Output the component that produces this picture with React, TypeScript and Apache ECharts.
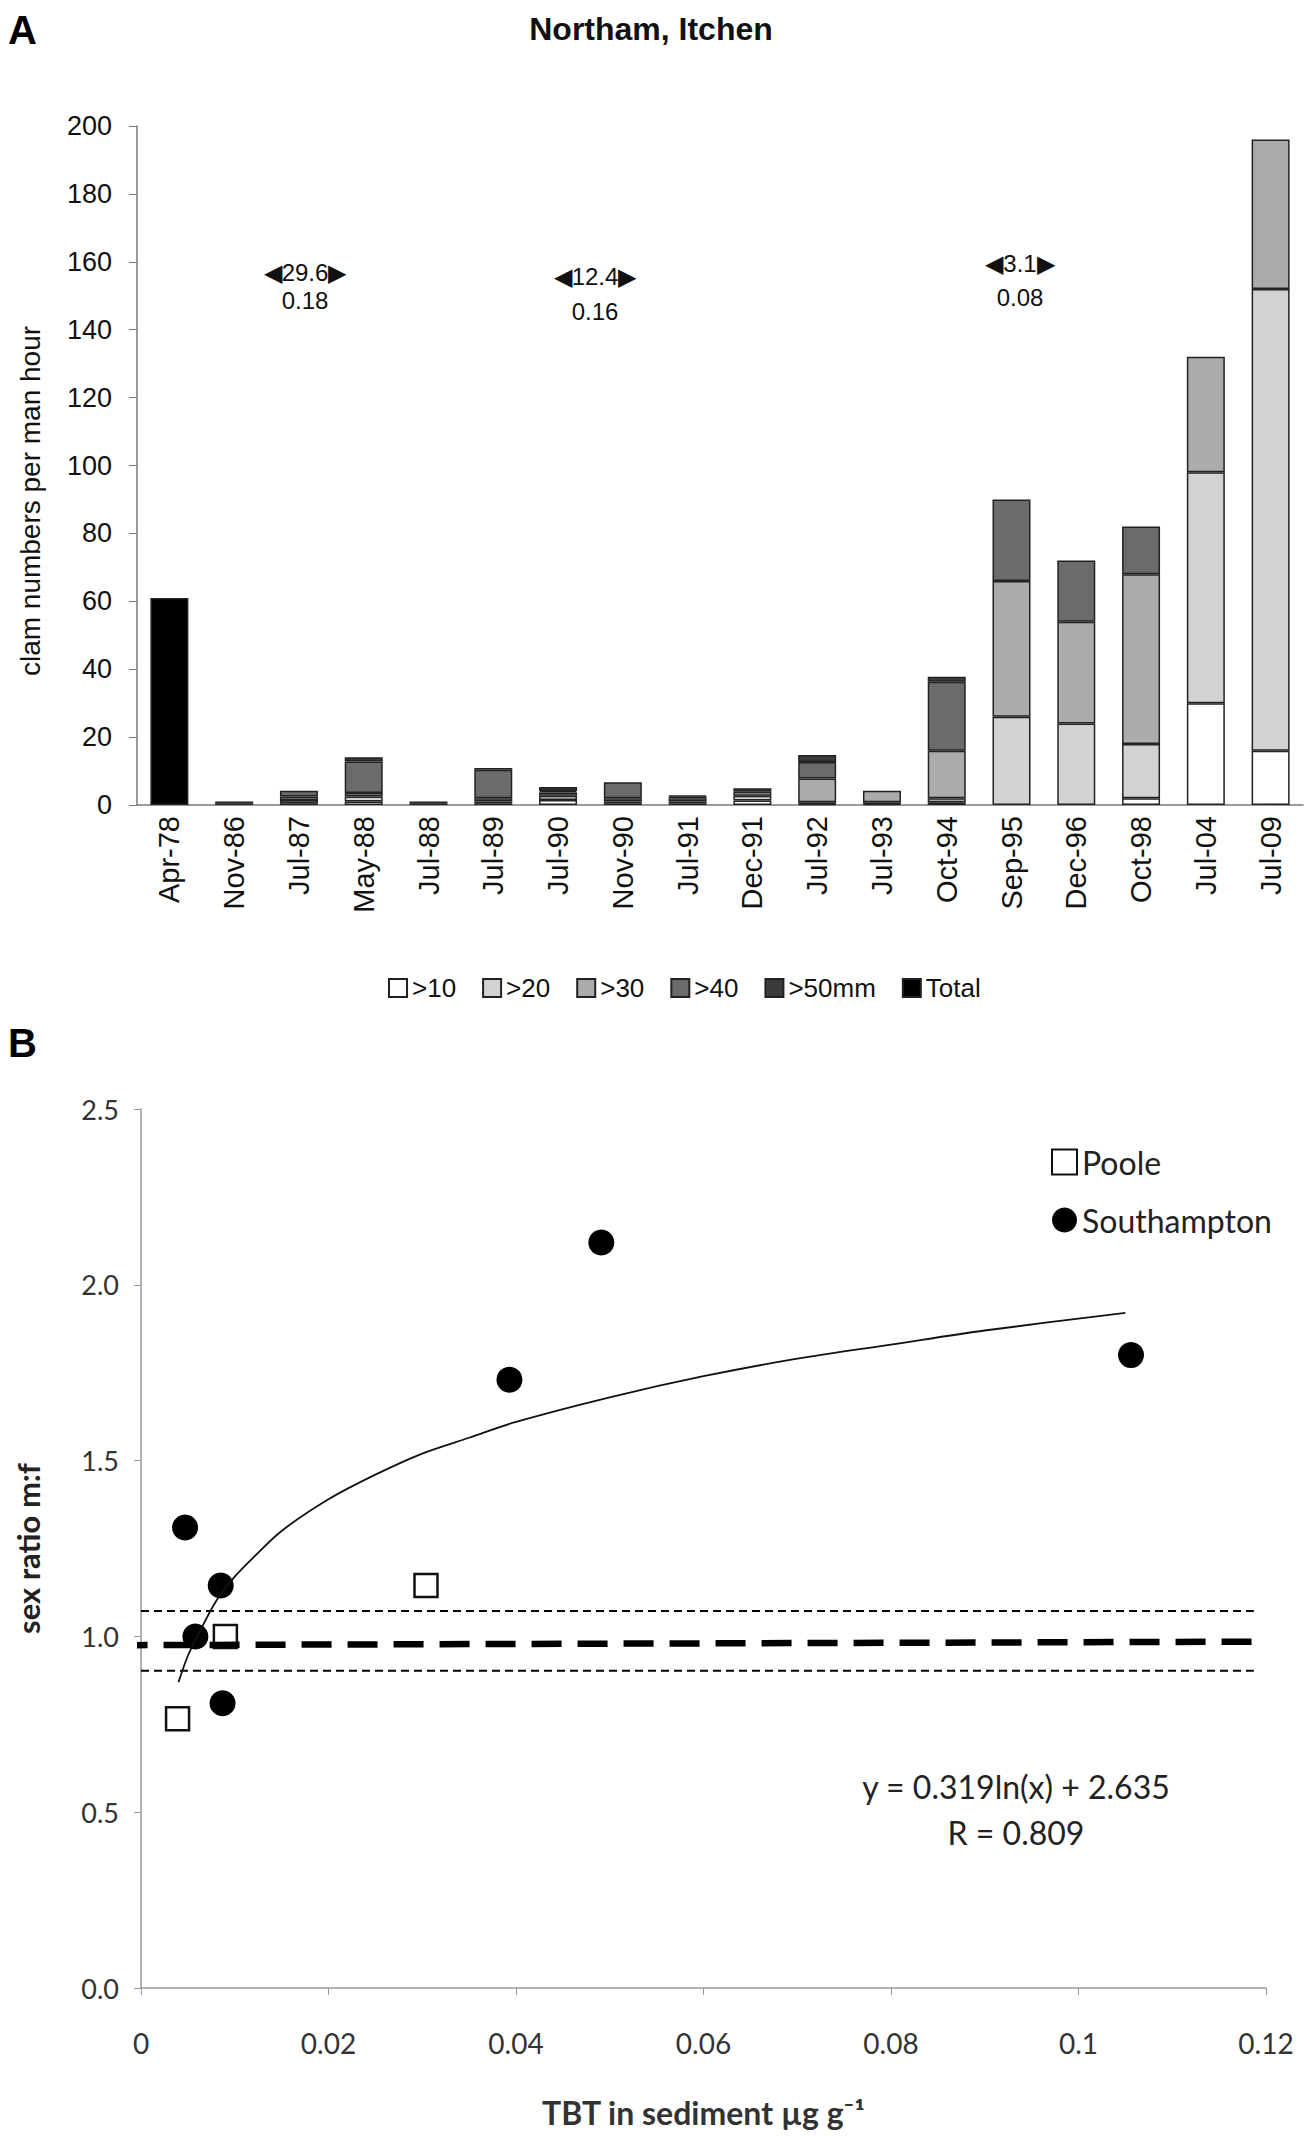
import React, { useEffect, useRef } from 'react';
import * as echarts from 'echarts';

// panel A: clam catch per size class
const categories = [
  'Apr-78', 'Nov-86', 'Jul-87', 'May-88', 'Jul-88', 'Jul-89', 'Jul-90', 'Nov-90', 'Jul-91',
  'Dec-91', 'Jul-92', 'Jul-93', 'Oct-94', 'Sep-95', 'Dec-96', 'Oct-98', 'Jul-04', 'Jul-09',
];
const gt10 = [0, 0, 0.5, 1, 0, 0.5, 1.5, 0.5, 0.5, 1.3, 0.3, 0.3, 0.8, 0, 0, 2, 30, 16];
const gt20 = [0, 0, 1, 1.5, 0, 0.5, 1.2, 0.5, 0.5, 1.4, 0.5, 0.5, 1.2, 26, 24, 16, 68, 136];
const gt30 = [0, 0, 1, 1, 0, 1, 1, 1, 1, 1.2, 7, 3.4, 14, 40, 30, 50, 34, 44];
const gt40 = [0, 0.5, 1.7, 9.3, 0.5, 8.4, 0.4, 4.7, 0.5, 0, 4.9, 0, 20.3, 24, 18, 14, 0, 0];
const gt50 = [0, 0.5, 0, 1.3, 0.5, 0.5, 1.2, 0, 0.3, 1, 2, 0, 1.5, 0, 0, 0, 0, 0];
const total = [61, 0, 0, 0, 0, 0, 0, 0, 0, 0, 0, 0, 0, 0, 0, 0, 0, 0];
const classNames = ['>10', '>20', '>30', '>40', '>50mm', 'Total'];
const classColors = ['#ffffff', '#d2d2d2', '#ababab', '#6b6b6b', '#3b3b3b', '#000000'];

// panel B: sex ratio vs TBT
const pooleTbt = [0.0039, 0.009, 0.0304];
const pooleRatio = [0.766, 1.0, 1.145];
const sotonTbt = [0.0047, 0.0058, 0.0085, 0.0087, 0.0393, 0.0491, 0.1056];
const sotonRatio = [1.31, 1.0, 1.145, 0.81, 1.73, 2.12, 1.8];
const fitTbt = [0.004, 0.005, 0.006, 0.008, 0.01, 0.012, 0.015, 0.02, 0.025, 0.03, 0.035, 0.04, 0.05, 0.06, 0.07, 0.08, 0.09, 0.105];
const fitRatio = [0.87, 0.945, 1.0, 1.1, 1.17, 1.225, 1.3, 1.39, 1.46, 1.52, 1.565, 1.61, 1.68, 1.74, 1.79, 1.83, 1.87, 1.92];
const parityTbt = [-0.0025, 0.1187];
const parityRatio = [0.975, 0.985];
const boundTbt = [0, 0.1187];
const upperRatio = [1.072, 1.072];
const lowerRatio = [0.902, 0.902];

const arrowLabels = [
  { top: '◀29.6▶', bottom: '0.18', x: 297, y1: 264, y2: 292 },
  { top: '◀12.4▶', bottom: '0.16', x: 587, y1: 268, y2: 303 },
  { top: '◀3.1▶', bottom: '0.08', x: 1012, y1: 255, y2: 289 },
];

const sans = 'Liberation Sans, Arial, sans-serif';
const calibri = 'Lato, Open Sans, sans-serif';

const App: React.FC = () => {
  const ref = useRef<HTMLDivElement>(null);

  useEffect(() => {
    if (!ref.current) return;
    const chart = echarts.init(ref.current, undefined, { renderer: 'svg' });

    const classes = [gt10, gt20, gt30, gt40, gt50, total];
    const barSeries = classes.map((vals, i) => ({
      name: classNames[i],
      type: 'bar',
      stack: 'clams',
      xAxisIndex: 0,
      yAxisIndex: 0,
      barWidth: 38,
      itemStyle: { color: classColors[i], borderColor: '#222', borderWidth: 1.5 },
      data: vals.map(v => (v > 0 ? v : '-')),
    }));

    const pair = (xs: number[], ys: number[]) => xs.map((x, i) => [x, ys[i]]);

    chart.setOption({
      animation: false,
      textStyle: { fontFamily: sans },
      grid: [
        { left: 129, width: 1166, top: 118, height: 679, outerBoundsMode: 'none', containLabel: false },
        { left: 133, width: 1125, top: 1101, height: 879, outerBoundsMode: 'none', containLabel: false },
      ],
      legend: [
        {
          data: classNames,
          left: 375, top: 962,
          itemWidth: 18, itemHeight: 18, itemGap: 26,
          icon: 'rect',
          textStyle: { fontFamily: sans, fontSize: 26, color: '#111' },
        },
        {
          data: ['Poole', 'Southampton'],
          orient: 'vertical',
          left: 1038, top: 1133,
          itemWidth: 25, itemHeight: 25, itemGap: 26,
          textStyle: { fontFamily: calibri, fontSize: 32, color: '#222' },
        },
      ],
      xAxis: [
        {
          type: 'category', gridIndex: 0, data: categories,
          axisLine: { lineStyle: { color: '#7a7a7a', width: 1.5 } },
          axisTick: { alignWithLabel: false, length: 8, lineStyle: { color: '#7a7a7a' } },
          axisLabel: { rotate: 90, fontSize: 29, color: '#111', margin: 11, interval: 0 },
        },
        {
          type: 'value', gridIndex: 1, min: 0, max: 0.12, interval: 0.02,
          splitLine: { show: false },
          axisLine: { lineStyle: { color: '#999', width: 1.5 } },
          axisTick: { show: true, length: 7, lineStyle: { color: '#999' } },
          axisLabel: { fontFamily: calibri, fontSize: 28, color: '#333', margin: 41,
            formatter: (v: number) => String(+v.toFixed(2)) },
          name: 'TBT in sediment µg g⁻¹',
          nameLocation: 'middle', nameGap: 108,
          nameTextStyle: { fontFamily: calibri, fontSize: 32, fontWeight: 'bold', color: '#333' },
        },
      ],
      yAxis: [
        {
          type: 'value', gridIndex: 0, min: 0, max: 200, interval: 20,
          splitLine: { show: false },
          axisLine: { show: true, lineStyle: { color: '#7a7a7a', width: 1.5 } },
          axisTick: { show: true, length: 8, lineStyle: { color: '#7a7a7a' } },
          axisLabel: { fontSize: 27, color: '#111', margin: 25 },
        },
        {
          type: 'value', gridIndex: 1, min: 0, max: 2.5, interval: 0.5,
          splitLine: { show: false },
          axisLine: { show: true, lineStyle: { color: '#999', width: 1.5 } },
          axisTick: { show: true, length: 7, lineStyle: { color: '#999' } },
          axisLabel: { fontFamily: calibri, fontSize: 27, color: '#333', margin: 22,
            formatter: (v: number) => v.toFixed(1) },
          name: 'sex ratio m:f',
          nameLocation: 'middle', nameGap: 98, nameRotate: 90,
          nameTextStyle: { fontFamily: calibri, fontSize: 31, fontWeight: 'bold', color: '#222' },
        },
      ],
      series: [
        ...barSeries,
        {
          name: 'parity', type: 'line', xAxisIndex: 1, yAxisIndex: 1,
          data: pair(parityTbt, parityRatio), symbol: 'none', clip: false,
          lineStyle: { color: '#000', width: 6.5, type: [30, 16] },
        },
        {
          name: 'upper', type: 'line', xAxisIndex: 1, yAxisIndex: 1,
          data: pair(boundTbt, upperRatio), symbol: 'none',
          lineStyle: { color: '#000', width: 2, type: [8, 5] },
        },
        {
          name: 'lower', type: 'line', xAxisIndex: 1, yAxisIndex: 1,
          data: pair(boundTbt, lowerRatio), symbol: 'none',
          lineStyle: { color: '#000', width: 2, type: [8, 5] },
        },
        {
          name: 'fit', type: 'line', xAxisIndex: 1, yAxisIndex: 1,
          data: pair(fitTbt, fitRatio), symbol: 'none', smooth: 0.3,
          lineStyle: { color: '#111', width: 1.8 },
        },
        {
          name: 'Poole', type: 'scatter', xAxisIndex: 1, yAxisIndex: 1,
          data: pair(pooleTbt, pooleRatio), symbol: 'rect', symbolSize: 23,
          itemStyle: { color: '#fff', borderColor: '#111', borderWidth: 2.5, opacity: 1 },
        },
        {
          name: 'Southampton', type: 'scatter', xAxisIndex: 1, yAxisIndex: 1,
          data: pair(sotonTbt, sotonRatio), symbol: 'circle', symbolSize: 26,
          itemStyle: { color: '#000', opacity: 1 },
        },
      ],
      graphic: [
        { type: 'text', x: 0, y: 22,
          style: { text: 'A', fontFamily: sans, fontSize: 40, fontWeight: 'bold', fill: '#000',
            verticalAlign: 'middle' } },
        { type: 'text', x: 0, y: 1035,
          style: { text: 'B', fontFamily: sans, fontSize: 40, fontWeight: 'bold', fill: '#000',
            verticalAlign: 'middle' } },
        { type: 'text', x: 643, y: 21,
          style: { text: 'Northam, Itchen', fontFamily: sans, fontSize: 32, fontWeight: 'bold',
            fill: '#111', align: 'center', verticalAlign: 'middle' } },
        { type: 'text', x: 22, y: 493, rotation: Math.PI / 2,
          style: { text: 'clam numbers per man hour', fontFamily: sans, fontSize: 28, fill: '#111',
            align: 'center', verticalAlign: 'middle' } },
        ...arrowLabels.flatMap(a => [
          { type: 'text', x: a.x, y: a.y1,
            style: { text: a.top, fontFamily: sans, fontSize: 24, fill: '#111', align: 'center',
              verticalAlign: 'middle' } },
          { type: 'text', x: a.x, y: a.y2,
            style: { text: a.bottom, fontFamily: sans, fontSize: 24, fill: '#111', align: 'center',
              verticalAlign: 'middle' } },
        ]),
        { type: 'text', x: 1008, y: 1778,
          style: { text: 'y = 0.319ln(x) + 2.635', fontFamily: calibri, fontSize: 32,
            fill: '#222', align: 'center', verticalAlign: 'middle' } },
        { type: 'text', x: 1008, y: 1824,
          style: { text: 'R = 0.809', fontFamily: calibri, fontSize: 32, fill: '#222',
            align: 'center', verticalAlign: 'middle' } },
      ],
    });

    return () => chart.dispose();
  }, []);

  return <div ref={ref} style={{ width: 1298, height: 2125 }} />;
};

export default App;
